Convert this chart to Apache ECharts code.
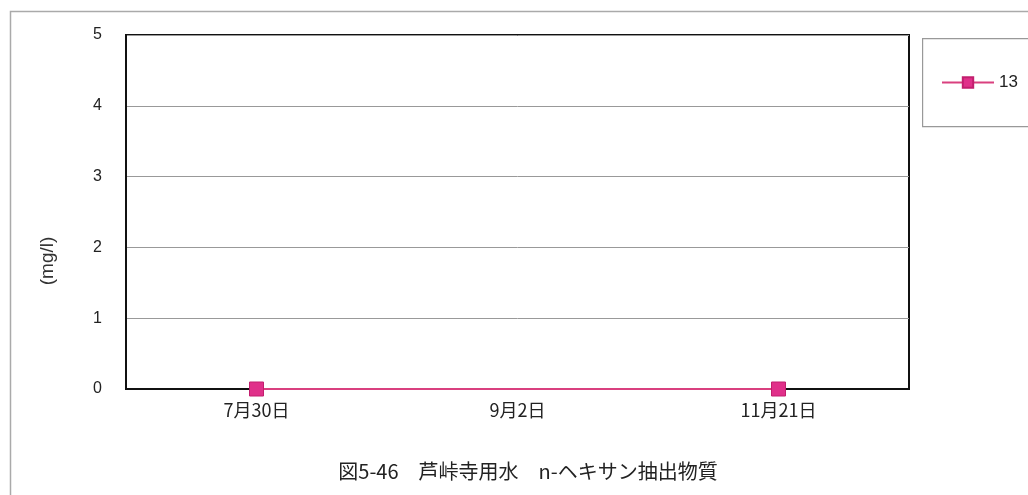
<!DOCTYPE html>
<html>
<head>
<meta charset="utf-8">
<script src="https://cdn.jsdelivr.net/npm/echarts@6/dist/echarts.min.js"></script>
<style>html,body{margin:0;padding:0;background:#fff;}#c{width:1028px;height:495px;}</style>
</head>
<body>
<div id="c"></div>
<script>
const categories = ['7月30日', '9月2日', '11月21日'];
const seriesName = '13';
const seriesValues = [0, null, 0];
const yTicks = [0, 1, 2, 3, 4, 5];
const titleText = '図5-46　芦峠寺用水　n-ヘキサン抽出物質';
const yName = '(mg/l)';

const FONT = '"Liberation Sans", "Noto Sans CJK JP", sans-serif';
const chart = echarts.init(document.getElementById('c'));
chart.setOption({
  animation: false,
  backgroundColor: '#fff',
  textStyle: { fontFamily: FONT },
  title: {
    text: titleText,
    left: 523, top: 456, textAlign: 'center',
    textStyle: { fontFamily: '"Noto Sans CJK JP", sans-serif', fontSize: 20, fontWeight: 'normal', color: '#222' }
  },
  graphic: [
    { type: 'rect', left: 8, top: 9, shape: { width: 1040, height: 500 }, style: { fill: 'none', stroke: '#aaa', lineWidth: 1.5 }, z: -1 },
    { type: 'rect', left: 922, top: 38, shape: { width: 120, height: 88 }, style: { fill: '#fff', stroke: '#999', lineWidth: 1.2 }, z: 0 },
    { type: 'text', x: 48, y: 261, rotation: Math.PI / 2,
      style: { text: yName, fontSize: 19, fill: '#333', textAlign: 'center', textVerticalAlign: 'middle', fontFamily: FONT } }
  ],
  legend: {
    left: 941, top: 74, padding: 0,
    itemWidth: 52, itemHeight: 13, itemGap: 3,
    textStyle: { fontSize: 17, color: '#222', fontFamily: FONT },
    data: [seriesName]
  },
  grid: {
    left: 126, top: 35, right: 119, bottom: 106,
    show: true, borderColor: '#111', borderWidth: 2
  },
  xAxis: {
    type: 'category', data: categories,
    axisLine: { lineStyle: { color: '#111', width: 2 } },
    axisTick: { inside: true, length: 4, lineStyle: { color: '#999' } },
    axisLabel: { fontSize: 18, color: '#222', margin: 12, fontFamily: '"Noto Sans CJK JP", sans-serif' }
  },
  yAxis: {
    type: 'value', min: yTicks[0], max: yTicks[yTicks.length - 1], interval: 1,
    axisLine: { show: true, lineStyle: { color: '#111', width: 2 } },
    axisTick: { show: false },
    axisLabel: { fontSize: 16, color: '#222', margin: 24 },
    splitLine: { lineStyle: { color: '#999', width: 1 } }
  },
  series: [{
    name: seriesName, type: 'line', data: seriesValues, connectNulls: true,
    symbol: 'rect', symbolSize: 14,
    itemStyle: { color: '#E0308A', borderColor: '#C21F6E', borderWidth: 1 },
    lineStyle: { color: '#D9407F', width: 2 },
    z: 5
  }]
});
</script>
</body>
</html>
